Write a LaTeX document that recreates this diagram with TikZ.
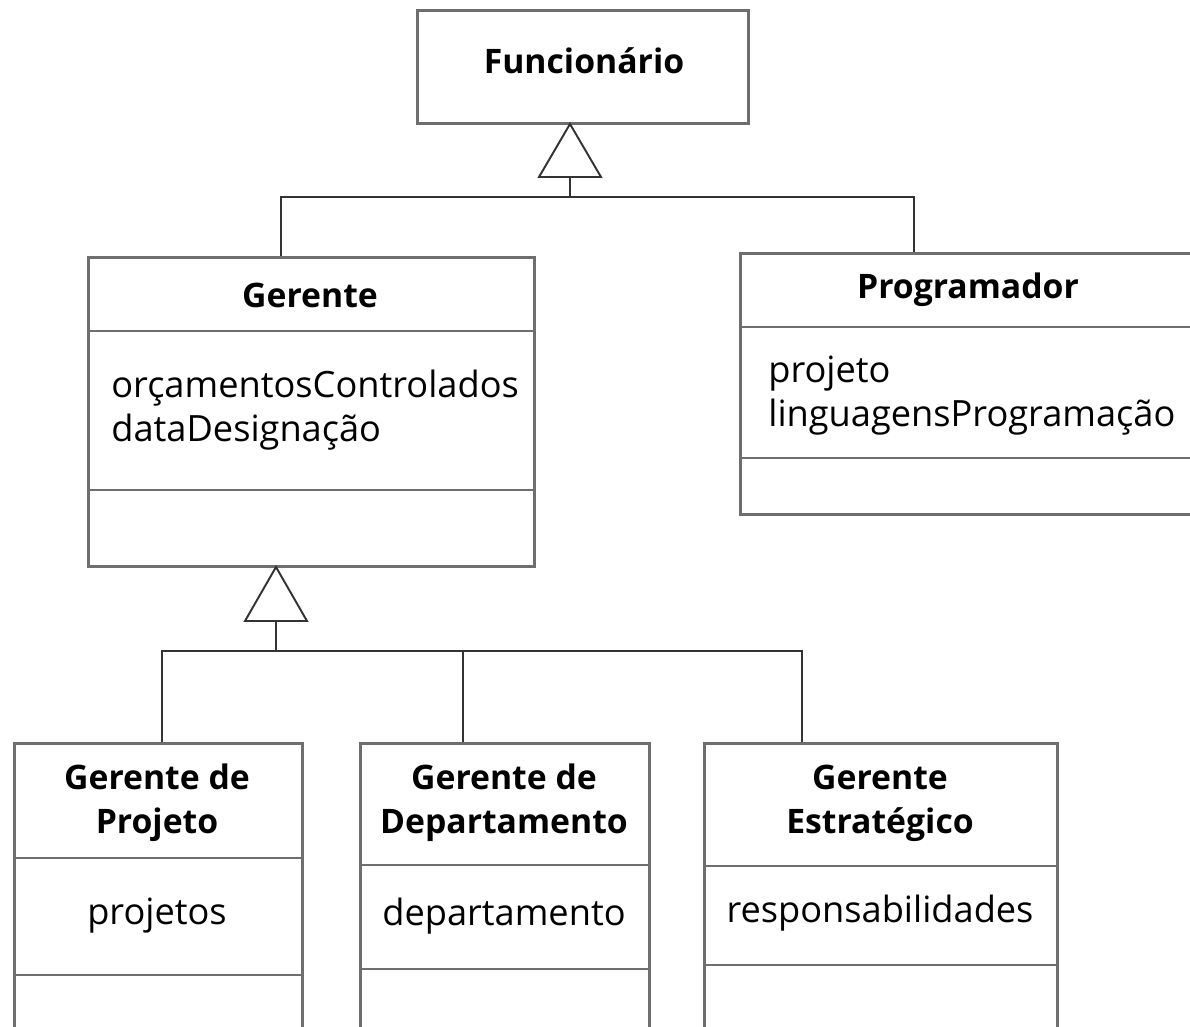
\documentclass[tikz,border=0pt]{standalone}
\usepackage{fontspec}
\setmainfont{Open Sans}
\usetikzlibrary{positioning}

\definecolor{boxgray}{HTML}{6E6E6E}
\definecolor{linkgray}{HTML}{333333}

\tikzset{
  classbox/.style={draw=boxgray, line width=1.7pt, fill=white, rectangle, anchor=north west, inner sep=0pt},
  divider/.style={draw=boxgray, line width=1.4pt},
  link/.style={draw=linkgray, line width=1.1pt},
  genarrow/.style={draw=linkgray, line width=1.1pt, fill=white, line join=miter},
  classname/.style={font=\bfseries\fontsize{19.2}{25}\selectfont, align=center, inner sep=0pt},
  attrib/.style={font=\fontsize{20.6}{25}\selectfont, align=left, inner sep=0pt},
}

\begin{document}
\begin{tikzpicture}[x=0.02cm, y=-0.02cm]
\clip (0,0) rectangle (1190,1027);
\fill[white] (0,0) rectangle (1190,1027);

% classes
\node[classbox, minimum width=6.62cm, minimum height=2.26cm] (func) at (416,9) {};
\node[classbox, minimum width=8.92cm, minimum height=6.18cm] (ger) at (87,256) {};
\node[classbox, minimum width=9.50cm, minimum height=5.22cm] (prog) at (739,252) {};
\node[classbox, minimum width=5.76cm, minimum height=6.20cm] (gp) at (13,742) {};
\node[classbox, minimum width=5.78cm, minimum height=6.20cm] (gd) at (359,742) {};
\node[classbox, minimum width=7.06cm, minimum height=6.20cm] (ge) at (703,742) {};

% compartments
\draw[divider] (ger.west |- 0,331) -- (ger.east |- 0,331);
\draw[divider] (ger.west |- 0,490) -- (ger.east |- 0,490);
\draw[divider] (prog.west |- 0,327) -- (prog.east |- 0,327);
\draw[divider] (prog.west |- 0,458) -- (prog.east |- 0,458);
\draw[divider] (gp.west |- 0,858) -- (gp.east |- 0,858);
\draw[divider] (gp.west |- 0,975) -- (gp.east |- 0,975);
\draw[divider] (gd.west |- 0,865) -- (gd.east |- 0,865);
\draw[divider] (gd.west |- 0,969) -- (gd.east |- 0,969);
\draw[divider] (ge.west |- 0,866) -- (ge.east |- 0,866);
\draw[divider] (ge.west |- 0,965) -- (ge.east |- 0,965);

% texts
\node[classname] (funcName) at (584,61) {Funcionário};
\node[classname] (gerName) at (310,295) {Gerente};
\node[classname] (progName) at (968,290) {Programador};
\node[classname] (gpName) at (157,803) {Gerente de\\Projeto};
\node[classname] (gdName) at (504,803) {Gerente de\\Departamento};
\node[classname] (geName) at (880,803) {Gerente\\Estratégico};

\node[attrib, anchor=west] (gerAttr) at (111,410) {orçamentosControlados\\dataDesignação};
\node[attrib, anchor=west] (progAttr) at (768,396) {projeto\\linguagensProgramação};
\node[attrib] (gpAttr) at (157,916) {projetos};
\node[attrib] (gdAttr) at (504,916) {departamento};
\node[attrib] (geAttr) at (880,913) {responsabilidades};

% generalisation: Funcionario
\coordinate (hub1) at (570,197);
\coordinate (tri1) at (570,124);
\draw[link] (ger.north -| 281,0) |- (hub1);
\draw[link] (prog.north -| 914,0) |- (hub1);
\draw[link] (hub1) -- ++(0,-20);
\draw[genarrow] (tri1) -- ++(31,53) -- ++(-62,0) -- cycle;

% generalisation: Gerente
\coordinate (hub2) at (276,651);
\coordinate (tri2) at (276,567);
\draw[link] (gp.north -| 162,0) |- (hub2);
\draw[link] (gd.north -| 463,0) |- (hub2);
\draw[link] (ge.north -| 802,0) |- (hub2);
\draw[link] (hub2) -- ++(0,-30);
\draw[genarrow] (tri2) -- ++(31,54) -- ++(-62,0) -- cycle;
\end{tikzpicture}
\end{document}
